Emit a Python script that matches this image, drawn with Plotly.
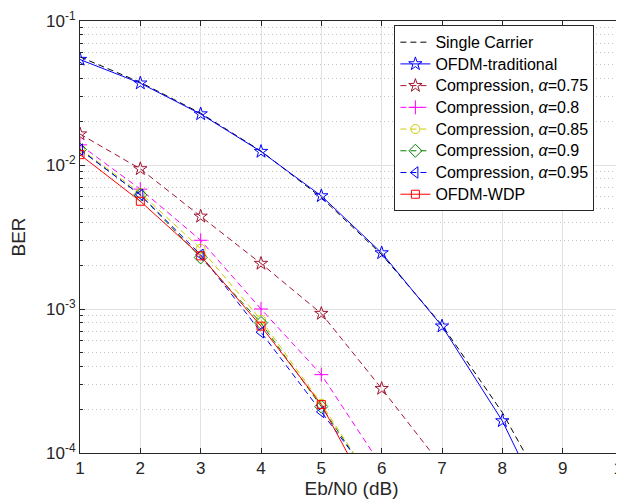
import plotly.graph_objects as go

# ---- data ----
x_sc = [1, 2, 3, 4, 5, 6, 7, 8, 9]
single_carrier = [0.0563, 0.0375, 0.0229, 0.0125, 0.00595, 0.00239, 7.73e-4, 1.91e-4, 3.36e-5]
x_ofdm = [1, 2, 3, 4, 5, 6, 7, 8, 9]
ofdm_traditional = [0.0540, 0.0370, 0.0226, 0.0124, 0.0061, 0.00245, 7.6e-4, 1.67e-4, 2.3e-5]
x_075 = [1, 2, 3, 4, 5, 6, 7]
comp_075 = [0.0164, 0.0094, 0.0044, 0.00207, 9.3e-4, 2.8e-4, 8.1e-5]
x_080 = [1, 2, 3, 4, 5, 6]
comp_080 = [0.0138, 0.0068, 0.0030, 1.0e-3, 3.5e-4, 8.1e-5]
x_085 = [1, 2, 3, 4, 5, 6]
comp_085 = [0.0130, 0.0064, 0.00262, 8.4e-4, 2.2e-4, 5.0e-5]
x_090 = [1, 2, 3, 4, 5, 6]
comp_090 = [0.0128, 0.0062, 0.00228, 8.0e-4, 2.1e-4, 5.0e-5]
x_095 = [1, 2, 3, 4, 5, 6]
comp_095 = [0.0128, 0.0062, 0.00238, 6.9e-4, 1.93e-4, 5.4e-5]
x_wdp = [1, 2, 3, 4, 5, 6]
ofdm_wdp = [0.0118, 0.0056, 0.00234, 7.6e-4, 2.17e-4, 3.6e-5]

series_names = ["Single Carrier", "OFDM-traditional", "Compression, <i>α</i>=0.75",
                "Compression, <i>α</i>=0.8", "Compression, <i>α</i>=0.85",
                "Compression, <i>α</i>=0.9", "Compression, <i>α</i>=0.95", "OFDM-WDP"]

y_tickvals = [1e-4, 1e-3, 1e-2, 1e-1]
y_ticktext = ["10<sup>-4</sup>", "10<sup>-3</sup>", "10<sup>-2</sup>", "10<sup>-1</sup>"]
x_tickvals = [1, 2, 3, 4, 5, 6, 7, 8, 9, 10]

FONT = "Liberation Sans, Arial, Helvetica, sans-serif"
DASH = "6px,4px"

fig = go.Figure()

def add(x, y, name, color, dash, symbol=None, size=9):
    mode = "lines+markers" if symbol else "lines"
    fig.add_trace(go.Scatter(
        x=x, y=y, mode=mode,
        name='<span style="font-size:16px">' + name + "</span>",
        line=dict(color=color, width=1, dash=dash),
        marker=dict(symbol=symbol, size=size, color=color,
                    line=dict(color=color, width=1)) if symbol else None,
    ))

add(x_sc, single_carrier, series_names[0], "#000000", DASH)
add(x_ofdm, ofdm_traditional, series_names[1], "#0000ff", "solid", "star-open", 10)
add(x_075, comp_075, series_names[2], "#a2142f", DASH, "star-open", 10)
add(x_080, comp_080, series_names[3], "#ff00ff", DASH, "cross-thin-open", 10)
add(x_085, comp_085, series_names[4], "#cccc00", DASH, "circle-open", 9)
add(x_090, comp_090, series_names[5], "#008000", DASH, "diamond-open", 10)
add(x_095, comp_095, series_names[6], "#0000ff", DASH, "triangle-left-open", 10)
add(x_wdp, ofdm_wdp, series_names[7], "#ff0000", "solid", "square-open", 8)

minor_vals = [k * 10.0 ** e for e in (-4, -3, -2) for k in range(2, 10)]

axis_common = dict(
    showline=True, linecolor="#262626", linewidth=1, mirror="ticks",
    ticks="inside", ticklen=5, tickcolor="#262626", tickwidth=1,
    showgrid=True, gridcolor="#e2e2e2", gridwidth=1, zeroline=False,
    automargin=False, ticklabeloverflow="allow",
    tickfont=dict(family=FONT, size=17, color="#262626"),
)

fig.update_layout(
    width=624, height=504,
    margin=dict(l=72, r=9, t=13, b=59),
    paper_bgcolor="white", plot_bgcolor="white",
    font=dict(family=FONT, color="#262626"),
    showlegend=True,
    legend=dict(
        x=0.579, y=0.99, xanchor="left", yanchor="top",
        bgcolor="white", bordercolor="#262626", borderwidth=1,
        font=dict(family=FONT, size=14.4, color="#000000"),
        tracegroupgap=0,
    ),
    xaxis=dict(
        range=[1, 10], tickmode="array", tickvals=x_tickvals,
        title=dict(text="Eb/N0 (dB)", font=dict(family=FONT, size=19, color="#262626"), standoff=4),
        **axis_common,
    ),
    yaxis=dict(
        type="log", range=[-4, -1], tickmode="array",
        tickvals=y_tickvals, ticktext=y_ticktext,
        title=dict(text="BER", font=dict(family=FONT, size=19, color="#262626"), standoff=16),
        minor=dict(tickmode="array", tickvals=minor_vals, ticks="inside", ticklen=3,
                   tickcolor="#262626", showgrid=True, gridcolor="#c4c4c4",
                   griddash="1px,3px", gridwidth=1),
        **axis_common,
    ),
)

fig.write_html("out.html")
